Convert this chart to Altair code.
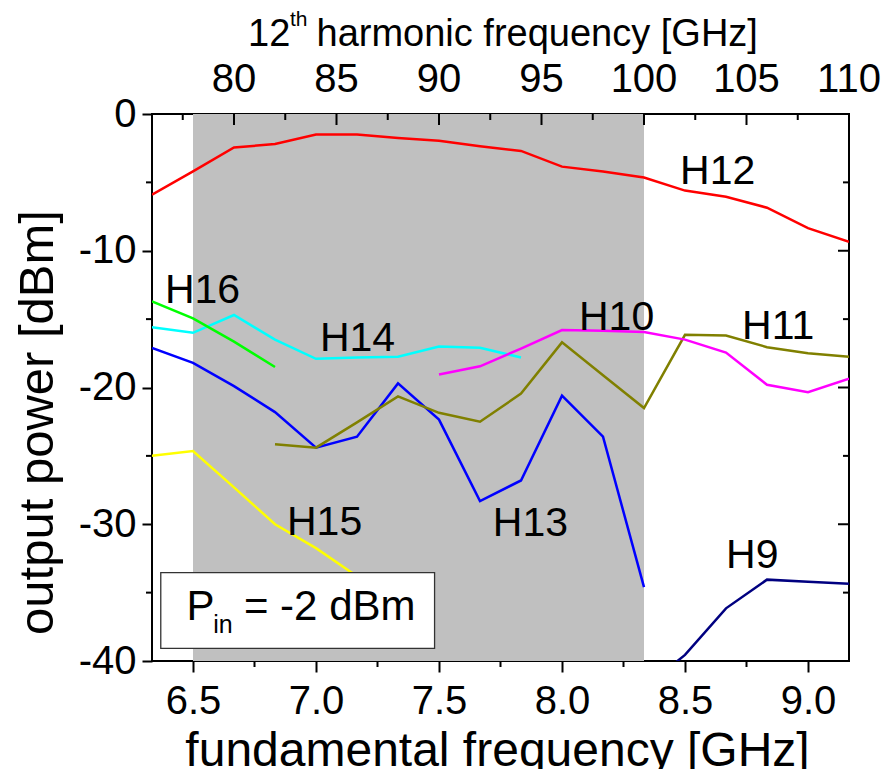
import altair as alt
import pandas as pd

# ---------------- data ----------------
# 12th-harmonic frequency grid (GHz); fundamental frequency = harmonic / 12
harmonic_grid = [76, 78, 80, 82, 84, 86, 88, 90, 92, 94, 96, 98, 100, 102, 104, 106, 108, 110]

series_names = ["H12", "H14", "H16", "H13", "H11", "H10", "H15", "H9"]
series_colors = ["#FF0000", "#00FFFF", "#00FF00", "#0000FF", "#808000", "#FF00FF", "#FFFF00", "#000080"]
series_start = [0, 0, 0, 0, 3, 7, 0, 12]   # index into harmonic_grid of first point

h12 = [-5.9, -4.2, -2.45, -2.2, -1.5, -1.5, -1.75, -1.95, -2.35, -2.7, -3.85, -4.2,
       -4.65, -5.6, -6.05, -6.85, -8.35, -9.35]
h14 = [-15.6, -16.0, -14.7, -16.5, -17.9, -17.8, -17.75, -17.0, -17.1, -17.8]
h16 = [-13.7, -14.95, -16.65, -18.5]
h13 = [-17.1, -18.2, -19.9, -21.8, -24.4, -23.6, -19.7, -22.35, -28.3, -26.8, -20.6,
       -23.6, -34.6]
h11 = [-24.15, -24.4, -22.55, -20.65, -21.85, -22.5, -20.45, -16.7, -19.1, -21.5,
       -16.15, -16.2, -17.05, -17.5, -17.75]
h10 = [-19.05, -18.45, -17.15, -15.8, -15.85, -15.95, -16.5, -17.45, -19.8, -20.35, -19.35]
h15 = [-25.0, -24.65, -27.3, -30.0, -31.75, -33.8]
h9 = [-42.0, -39.55, -36.15, -34.05, -34.2, -34.35]
series_values = [h12, h14, h16, h13, h11, h10, h15, h9]

# series labels (data coordinates)
label_text = ["H12", "H16", "H14", "H10", "H11", "H15", "H13", "H9"]
label_x = [8.480, 6.386, 7.016, 8.069, 8.732, 6.882, 7.719, 8.667]
label_y = [-5.12, -13.82, -17.33, -15.80, -16.45, -30.79, -30.86, -33.2]

# shaded band (fundamental GHz) = 78 .. 100 GHz at 12th harmonic
shade_from = [6.5]
shade_to = [100 / 12]

# P_in box (data coordinates)
box_x = [6.369, 7.482]
box_y = [-33.54, -39.07]

# axes
x_domain = [76 / 12, 110 / 12]
y_domain = [-40, 0]
bottom_major = [6.5, 7.0, 7.5, 8.0, 8.5, 9.0]
bottom_minor = [6.75, 7.25, 7.75, 8.25, 8.75]
left_major = [-40, -30, -20, -10, 0]
y_minor = [-35, -25, -15, -5]
right_major = [-30, -20, -10]
top_labels = [80, 85, 90, 95, 100, 105, 110]
top_major = [80, 85, 90, 95, 100, 105]
top_minor = [77.5, 82.5, 87.5, 92.5, 97.5, 102.5, 107.5]

# ---------------- tables ----------------
rows = []
for k, (name, start, vals) in enumerate(zip(series_names, series_start, series_values)):
    for i, v in enumerate(vals):
        rows.append({"series": name, "k": k, "i": i,
                     "f": harmonic_grid[start + i] / 12, "p": v})
lines_df = pd.DataFrame(rows)
labels_df = pd.DataFrame({"t": label_text, "x": label_x, "y": label_y})

W, H = 697, 547
FONT = "Liberation Sans"

xs = alt.Scale(domain=x_domain, nice=False, zero=False)
ys = alt.Scale(domain=y_domain, nice=False, zero=False)

shade = alt.Chart(pd.DataFrame({"a": shade_from, "b": shade_to})).mark_rect(
    color="#C0C0C0"
).encode(
    x=alt.X("a:Q", scale=xs,
            axis=alt.Axis(values=bottom_major, format=".1f", tickSize=11, tickWidth=2,
                          tickColor="black", labelFontSize=40, labelFont=FONT,
                          labelColor="black", labelBaseline="alphabetic",
                          labelPadding=41, labelFlush=False, labelOverlap=False,
                          domain=False, grid=False,
                          title="fundamental frequency [GHz]", titleFont=FONT,
                          titleFontSize=48, titleFontWeight="normal", titleColor="black",
                          titleX=345, titleY=104, titleAlign="center",
                          titleBaseline="alphabetic")),
    x2="b:Q",
    y=alt.value(0),
    y2=alt.value(H),
)

lines = alt.Chart(lines_df).mark_line(strokeWidth=2.5, clip=True).encode(
    x=alt.X("f:Q", scale=xs),
    y=alt.Y("p:Q", scale=ys,
            axis=alt.Axis(values=left_major, tickSize=10, tickWidth=2, tickColor="black",
                          labelFontSize=40, labelFont=FONT, labelColor="black",
                          labelPadding=6, labelFlush=False, labelOverlap=False,
                          labelExpr="datum.value < 0 ? '-' + (-datum.value) : '' + datum.value",
                          domain=False, grid=False,
                          title="output power [dBm]", titleFont=FONT, titleFontSize=49,
                          titleFontWeight="normal", titleColor="black", titleAngle=270,
                          titleX=-100, titleY=308, titleAlign="center",
                          titleBaseline="alphabetic")),
    color=alt.Color("series:N", scale=alt.Scale(domain=series_names, range=series_colors),
                    legend=None),
    detail="k:N",
    order="i:Q",
)

labels = alt.Chart(labels_df).mark_text(
    font=FONT, fontSize=41, align="left", baseline="alphabetic", color="black"
).encode(x=alt.X("x:Q", scale=xs), y=alt.Y("y:Q", scale=ys), text="t:N")

box = alt.Chart(pd.DataFrame({"x": [box_x[0]], "x2": [box_x[1]],
                              "y": [box_y[0]], "y2": [box_y[1]]})).mark_rect(
    fill="white", stroke="#333333", strokeWidth=1.3
).encode(x=alt.X("x:Q", scale=xs), x2="x2:Q", y=alt.Y("y:Q", scale=ys), y2="y2:Q")

box_text = alt.Chart(pd.DataFrame({
    "t": ["P", "in", "= -2 dBm"],
    "x": [6.474, 6.582, 6.707],
    "y": [-36.97, -37.97, -36.97],
    "s": [42, 25, 42],
})).mark_text(font=FONT, align="left", baseline="alphabetic", color="black").encode(
    x=alt.X("x:Q", scale=xs), y=alt.Y("y:Q", scale=ys), text="t:N",
    size=alt.Size("s:Q", scale=None, legend=None),
)

tick_style = dict(color="black", strokeWidth=2)

bottom_minor_ticks = alt.Chart(pd.DataFrame({"v": bottom_minor})).mark_rule(**tick_style).encode(
    x=alt.X("v:Q", scale=xs), y=alt.value(H), y2=alt.value(H + 6))
left_minor_ticks = alt.Chart(pd.DataFrame({"v": y_minor})).mark_rule(**tick_style).encode(
    y=alt.Y("v:Q", scale=ys), x=alt.value(-6), x2=alt.value(0))
right_major_ticks = alt.Chart(pd.DataFrame({"v": right_major})).mark_rule(**tick_style).encode(
    y=alt.Y("v:Q", scale=ys), x=alt.value(W - 11), x2=alt.value(W))
right_minor_ticks = alt.Chart(pd.DataFrame({"v": y_minor})).mark_rule(**tick_style).encode(
    y=alt.Y("v:Q", scale=ys), x=alt.value(W - 6), x2=alt.value(W))
top_major_ticks = alt.Chart(pd.DataFrame({"h": top_major})).transform_calculate(
    f="datum.h / 12").mark_rule(**tick_style).encode(
    x=alt.X("f:Q", scale=xs), y=alt.value(0), y2=alt.value(11))
top_minor_ticks = alt.Chart(pd.DataFrame({"h": top_minor})).transform_calculate(
    f="datum.h / 12").mark_rule(**tick_style).encode(
    x=alt.X("f:Q", scale=xs), y=alt.value(0), y2=alt.value(6))

top_label_marks = alt.Chart(pd.DataFrame({"h": top_labels})).transform_calculate(
    f="datum.h / 12").mark_text(font=FONT, fontSize=40, align="center",
                                baseline="alphabetic", color="black").encode(
    x=alt.X("f:Q", scale=xs), y=alt.value(-22.5), text=alt.Text("h:Q", format="d"))

title_df = pd.DataFrame({"t": ["12", "th", "harmonic frequency [GHz]"],
                         "px": [96.0, 138.0, 164.5], "py": [-68.3, -88.0, -68.3],
                         "s": [38, 21, 38]})
top_title = alt.Chart(title_df).mark_text(font=FONT, align="left", baseline="alphabetic",
                                          color="black").encode(
    x=alt.X("px:Q", scale=None), y=alt.Y("py:Q", scale=None), text="t:N",
    size=alt.Size("s:Q", scale=None, legend=None),
)

chart = alt.layer(
    shade, lines, labels, box, box_text,
    bottom_minor_ticks, left_minor_ticks, right_major_ticks, right_minor_ticks,
    top_major_ticks, top_minor_ticks, top_label_marks, top_title,
).properties(
    width=W, height=H,
    padding={"left": 152, "top": 114, "right": 37, "bottom": 108},
    autosize=alt.AutoSizeParams(type="none"),
    background="white",
).configure_view(
    stroke="black", strokeWidth=2
)

chart.save("out.html", embed_options={"renderer": "svg", "actions": False})
